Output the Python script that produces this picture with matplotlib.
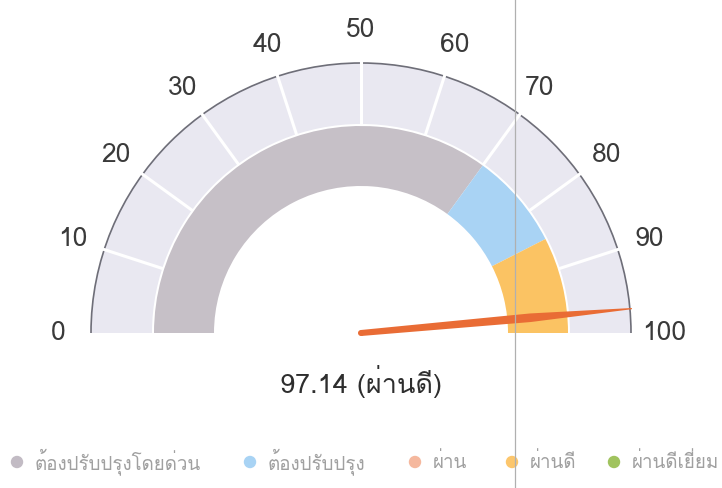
import numpy as np
import matplotlib
matplotlib.use('Agg')
import matplotlib.pyplot as plt
from matplotlib.patches import Wedge, Arc, Polygon, Circle
from matplotlib import font_manager
from matplotlib.ft2font import FT2Font

# data
tick_values = [0, 10, 20, 30, 40, 50, 60, 70, 80, 90, 100]
band_starts = [0, 70, 85]
band_ends = [70, 85, 100]
band_colors = ['#c6c0c7', '#a9d3f4', '#fbc363']
score = 97.14
score_label = "97.14 (ผ่านดี)"
legend_names = ['ต้องปรับปรุงโดยด่วน', 'ต้องปรับปรุง', 'ผ่าน', 'ผ่านดี', 'ผ่านดีเยี่ยม']
legend_colors = ['#c2bbc4', '#a8d3f4', '#f5b89e', '#fcc66c', '#a0c35e']


def find_thai_font():
    # look for any installed font with Thai glyphs
    for f in font_manager.fontManager.ttflist:
        try:
            if 0x0E1C in FT2Font(f.fname).get_charmap():
                return f.name
        except Exception:
            pass
    return None


thai = find_thai_font()
fams = [thai, 'DejaVu Sans'] if thai else ['DejaVu Sans']
plt.rcParams['font.family'] = fams


def angle(v):
    return 180 - 1.8 * v


fig = plt.figure(figsize=(7.22, 4.88), dpi=100)
ax = fig.add_axes([0, 0, 1, 1])
ax.set_xlim(0, 722)
ax.set_ylim(0, 488)
ax.set_aspect('equal')
ax.axis('off')

cx, cy = 361, 155
R = 270

# outer scale band
ax.add_patch(Wedge((cx, cy), R, 0, 180, width=61, facecolor='#e9e8f1', edgecolor='none'))
ax.add_patch(Arc((cx, cy), 2 * R, 2 * R, theta1=0, theta2=180, color='#6e6e78', lw=1.2))
for v in tick_values[1:-1]:
    a = np.radians(angle(v))
    ax.plot([cx + 209 * np.cos(a), cx + R * np.cos(a)],
            [cy + 209 * np.sin(a), cy + R * np.sin(a)], color='white', lw=2.2)

# tick labels
for v in tick_values:
    a = np.radians(angle(v))
    ax.text(cx + 303 * np.cos(a), cy + 303 * np.sin(a), str(v), ha='center', va='center',
            fontsize=19, color='#3a3a3a')

# colored bands
for s, e, c in zip(band_starts, band_ends, band_colors):
    ax.add_patch(Wedge((cx, cy), 207, angle(e), angle(s), width=60, facecolor=c, edgecolor='none'))

# needle
a = np.radians(angle(score))
d = np.array([np.cos(a), np.sin(a)])
n = np.array([-d[1], d[0]])
prof = [(0, 3), (170, 4.3), (R + 2, 0.6)]
pts = [np.array([cx, cy]) + d * r + n * w for r, w in prof]
pts += [np.array([cx, cy]) + d * r - n * w for r, w in prof[::-1]]
ax.add_patch(Polygon(pts, closed=True, facecolor='#e96c35', edgecolor='none'))
ax.add_patch(Circle((cx, cy), 3, facecolor='#e96c35', edgecolor='none'))

ax.text(cx, 488 - 381, score_label, ha='center', va='center', fontsize=19.5, color='#2e2e2e')

# legend
leg_x = [17, 250, 415, 512, 614]
for x, name, c in zip(leg_x, legend_names, legend_colors):
    ax.scatter([x], [488 - 462], s=80, color=c, edgecolors='none')
    ax.text(x + 18, 488 - 462, name, ha='left', va='center', fontsize=13.5, color='#a0a0a0')

# scan fold line
ax.plot([515, 515], [0, 488], color='#b0b0b0', lw=0.9)

fig.savefig('out.png', dpi=100)
